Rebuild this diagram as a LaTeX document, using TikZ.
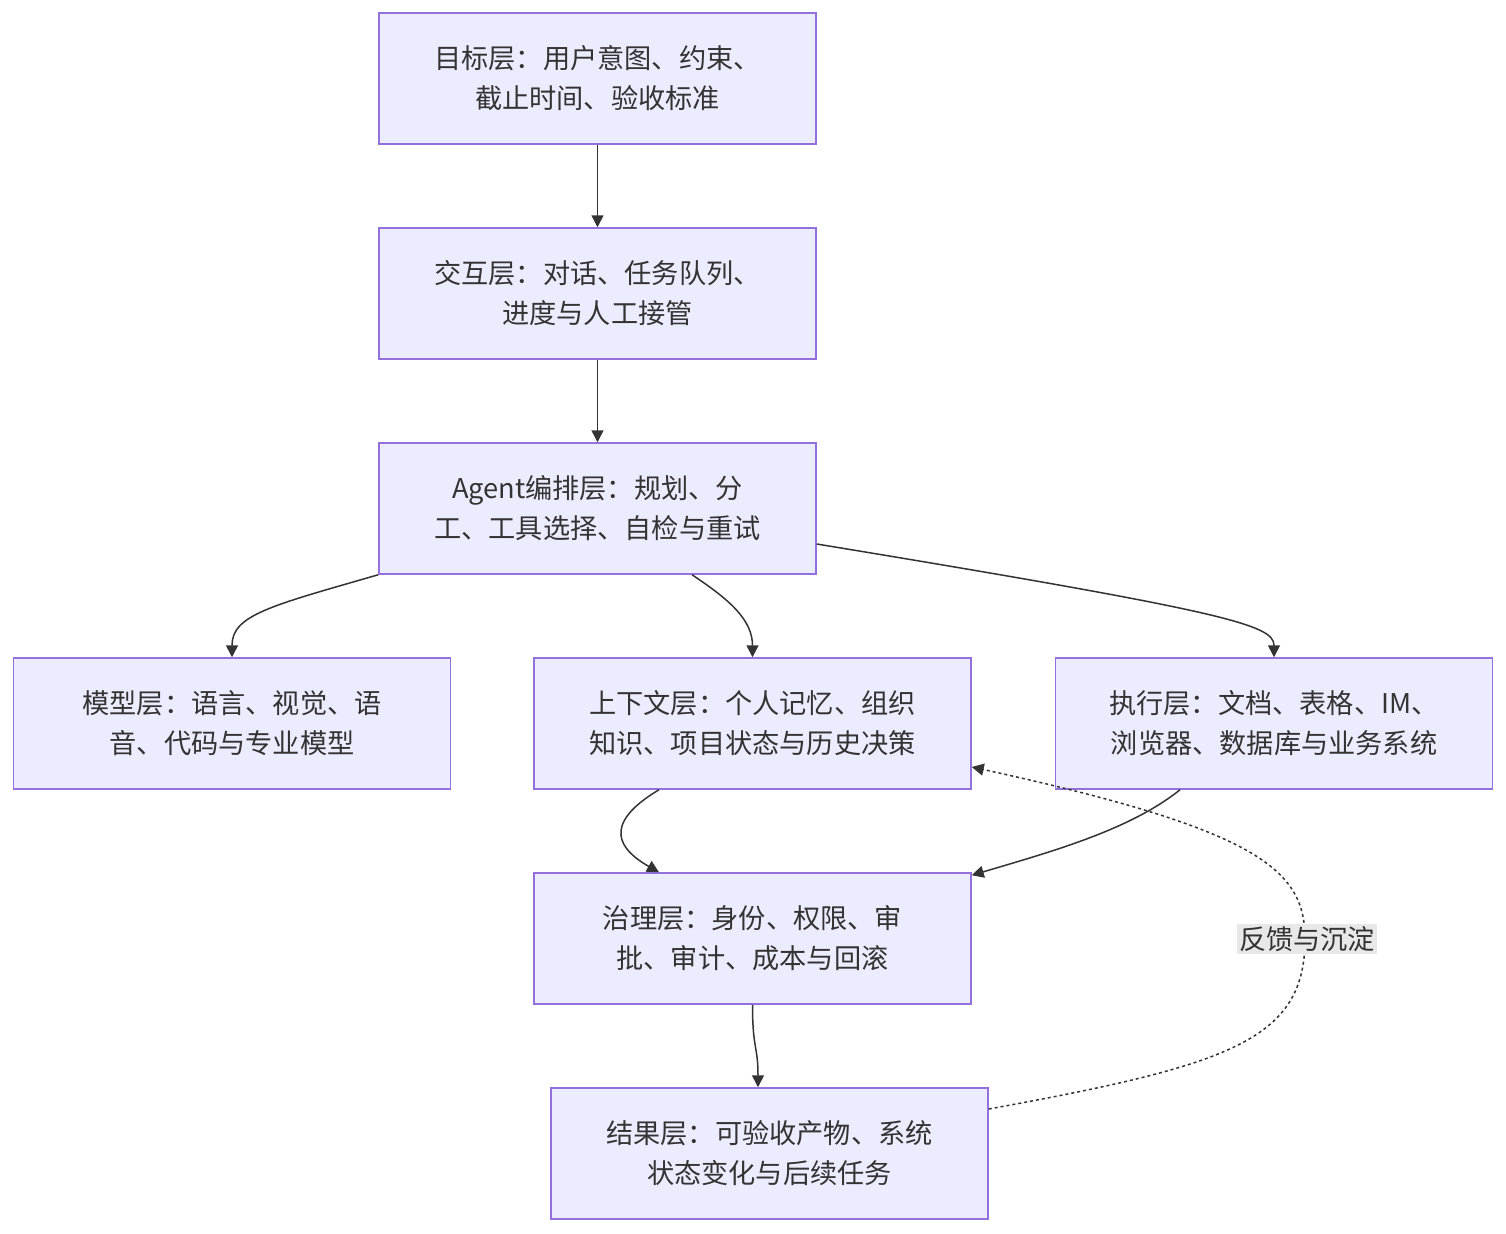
\documentclass[tikz,border=0pt]{standalone}
\usepackage{fontspec}
\setmainfont{Noto Sans CJK SC}
\usetikzlibrary{arrows.meta,calc}
\definecolor{capa}{HTML}{ECECFF}
\definecolor{borde}{HTML}{9370DB}
\definecolor{linea}{HTML}{333333}
\definecolor{etiq}{HTML}{E8E8E8}
\tikzset{
  layer/.style={draw=borde,fill=capa,line width=0.75pt,minimum width=218.5pt,minimum height=65.5pt,
    align=center,text=linea,font=\fontsize{13.6}{20}\selectfont,inner sep=0pt},
  flow/.style={draw=linea,line width=0.75pt,-{Triangle[length=6pt,width=6pt]}},
  feedback/.style={flow,dash pattern=on 1.5pt off 1.5pt}
}
\begin{document}
\begin{tikzpicture}[x=0.5pt,y=-0.5pt]
  \useasboundingbox (0,0) rectangle (1506,1233);

  % Capas
  \node[layer] (goal) at (597.5,78.5) {目标层：用户意图、约束、\\截止时间、验收标准};
  \node[layer] (inter) at (597.5,293.5) {交互层：对话、任务队列、\\进度与人工接管};
  \node[layer] (agent) at (597.5,508.5) {Agent编排层：规划、分\\工、工具选择、自检与重试};
  \node[layer] (model) at (232,723.5) {模型层：语言、视觉、语\\音、代码与专业模型};
  \node[layer] (context) at (752.5,723.5) {上下文层：个人记忆、组织\\知识、项目状态与历史决策};
  \node[layer] (exec) at (1274,723.5) {执行层：文档、表格、IM、\\浏览器、数据库与业务系统};
  \node[layer] (gov) at (752.5,938.5) {治理层：身份、权限、审\\批、审计、成本与回滚};
  \node[layer] (result) at (769.5,1153.5) {结果层：可验收产物、系统\\状态变化与后续任务};

  % Flechas
  \draw[flow] (goal) -- (inter);
  \draw[flow] (inter) -- (agent);
  \draw[flow] (agent.south west) .. controls (270,606) and (232,615) .. (model.north);
  \draw[flow] ($(agent.south)+(94.5,0)$) .. controls (730,600) and (752.5,620) .. (context.north);
  \draw[flow] ($(agent.east)+(0,35.5)$) .. controls (1230,612) and (1274,625) .. (exec.north);
  \draw[flow] ($(context.south)+(-93.5,0)$) .. controls (600,825) and (620,850) .. ($(gov.north)+(-93.5,0)$);
  \draw[flow] ($(exec.south)+(-94,0)$) .. controls (1130,830) and (1050,852) .. ($(gov.north east)+(0,3)$);
  \draw[flow] (gov.south) .. controls (752.5,1050) and (758,1045) .. ($(result.north)+(-11.5,0)$);

  % Retorno
  \draw[feedback] ($(result.east)+(0,-44.5)$) .. controls (1230,1065) and (1305,1040) .. (1305,939)
    .. controls (1305,870) and (1260,830) .. ($(context.east)+(0,43.5)$);
  \node[fill=etiq,text=linea,font=\fontsize{13.6}{16}\selectfont,inner sep=1pt] (fb) at (1307,939) {反馈与沉淀};
\end{tikzpicture}
\end{document}
